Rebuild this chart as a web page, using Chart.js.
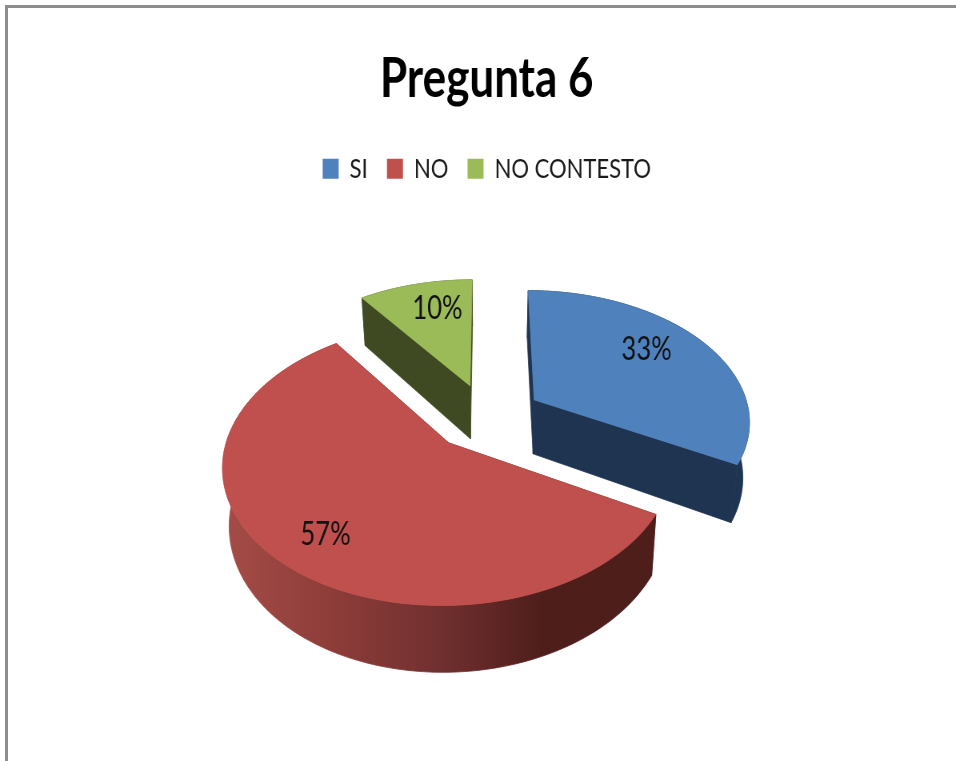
<!DOCTYPE html>
<html>
<head>
<meta charset="utf-8">
<title>Pregunta 6</title>
<script src="https://cdn.jsdelivr.net/npm/chart.js@4/dist/chart.umd.min.js"></script>
<style>
  html, body { margin: 0; padding: 0; background: #fff; overflow: hidden; width: 956px; height: 761px; }
  #frame { position: absolute; left: 5px; top: 5px; right: 0; bottom: 0; border-left: 3px solid #8c8c8c; border-top: 3px solid #8c8c8c; }
  /* the reference is squeezed sideways, so the whole canvas is too */
  #squeeze { position: absolute; left: 0; top: 0; width: 1195px; height: 761px; transform: scaleX(0.8); transform-origin: 0 0; }
</style>
</head>
<body>
<div id="frame"></div>
<div id="squeeze"><canvas id="pie" width="1195" height="761"></canvas></div>
<script>
const categories = ["SI", "NO", "NO CONTESTO"];
const percentages = [33, 57, 10];
const topColors = ["#4F81BD", "#C0504D", "#9BBB59"];

// look of the 3D extrusion, one entry per slice
const wallStops = [
  [[0, "#1F3450"], [1, "#1F3450"]],
  [[0, "#A54C48"], [0.25, "#8E3D39"], [0.5, "#713030"], [0.74, "#4E1E1B"], [1, "#4E1E1B"]],
  [[0, "#3F4A22"], [1, "#3F4A22"]],
];
const labelReach = [0.65, 0.75, 0.7];
const labelNudge = [[8, -13], [-6, 12], [5, -7]];

const SCALE_X = 2.7; // canvas px per arc px, sideways
const SCALE_Y = 1.3;
const PERSPECTIVE = 0.00148; // per arc px, far edge shrinks
const DEPTH = 55;
const BOTTOM_SHRINK = 0.975;

function project(arc, u, v, low) {
  const w = 1 + PERSPECTIVE * v;
  const dx = (SCALE_X * u) / w;
  const dy = (SCALE_Y * v) / w;
  return {
    x: arc.x + (low ? dx * BOTTOM_SHRINK : dx),
    y: arc.y - dy + (low ? DEPTH / w : 0),
  };
}

function slicePoints(arc, low) {
  const mid = (arc.startAngle + arc.endAngle) / 2;
  const ou = arc.options.offset * Math.cos(mid);
  const ov = -arc.options.offset * Math.sin(mid);
  const pts = [];
  const steps = Math.ceil((arc.endAngle - arc.startAngle) / 0.03);
  for (let i = 0; i <= steps; i++) {
    const a = arc.startAngle + ((arc.endAngle - arc.startAngle) * i) / steps;
    pts.push(project(arc, ou + arc.outerRadius * Math.cos(a), ov - arc.outerRadius * Math.sin(a), low));
  }
  return { tip: project(arc, ou, ov, low), rim: pts };
}

function fillPath(ctx, pts, style) {
  ctx.beginPath();
  pts.forEach((p, i) => (i ? ctx.lineTo(p.x, p.y) : ctx.moveTo(p.x, p.y)));
  ctx.closePath();
  ctx.fillStyle = style;
  ctx.strokeStyle = style; // hides the seams between the wall pieces
  ctx.lineWidth = 0.8;
  ctx.fill();
  ctx.stroke();
}

const pie3d = {
  id: "pie3d",
  beforeDatasetsDraw(chart) {
    const ctx = chart.ctx;
    const arcs = chart.getDatasetMeta(0).data;
    const order = arcs
      .map((arc, i) => i)
      .sort((a, b) => {
        const mid = (arc) => (arc.startAngle + arc.endAngle) / 2;
        return Math.sin(mid(arcs[a])) - Math.sin(mid(arcs[b]));
      });

    order.forEach((i) => {
      const arc = arcs[i];
      const high = slicePoints(arc, false);
      const low = slicePoints(arc, true);
      const xs = low.rim.concat(high.rim).map((p) => p.x);
      const grad = ctx.createLinearGradient(Math.min(...xs), 0, Math.max(...xs), 0);
      wallStops[i].forEach((s) => grad.addColorStop(s[0], s[1]));

      const first = high.rim.length - 1;
      const flat = wallStops[i][wallStops[i].length - 1][1];
      fillPath(ctx, [high.tip, high.rim[0], low.rim[0], low.tip], flat);
      fillPath(ctx, [high.tip, high.rim[first], low.rim[first], low.tip], flat);
      fillPath(ctx, high.rim.concat(low.rim.slice().reverse()), grad);
      fillPath(ctx, [high.tip].concat(high.rim), topColors[i]);
    });

    ctx.save();
    ctx.font = "32px Lato";
    ctx.fillStyle = "#111";
    ctx.textAlign = "center";
    ctx.textBaseline = "middle";
    arcs.forEach((arc, i) => {
      const mid = (arc.startAngle + arc.endAngle) / 2;
      const r = 22 + arc.outerRadius * labelReach[i];
      const p = project(arc, r * Math.cos(mid), -r * Math.sin(mid), false);
      ctx.fillText(percentages[i] + "%", p.x + labelNudge[i][0] / 0.8, p.y + labelNudge[i][1]);
    });
    ctx.restore();
    return false;
  },
};

new Chart(document.getElementById("pie"), {
  type: "pie",
  data: {
    labels: categories,
    datasets: [
      {
        data: percentages,
        backgroundColor: topColors,
        borderWidth: 0,
        offset: 26,
        radius: 100,
      },
    ],
  },
  options: {
    responsive: false,
    animation: false,
    devicePixelRatio: 1,
    layout: { padding: { left: 22, top: 46, bottom: 120 } },
    plugins: {
      title: {
        display: true,
        text: "Pregunta 6",
        color: "#000",
        font: { family: "Lato", size: 55, weight: "bold" },
        padding: { top: 0, bottom: 19 },
      },
      legend: {
        position: "top",
        labels: {
          color: "#1a1a1a",
          font: { family: "Lato", size: 27.5 },
          boxWidth: 20,
          boxHeight: 20,
          padding: 24,
        },
      },
      tooltip: { enabled: false },
    },
  },
  plugins: [pie3d],
});
</script>
</body>
</html>
